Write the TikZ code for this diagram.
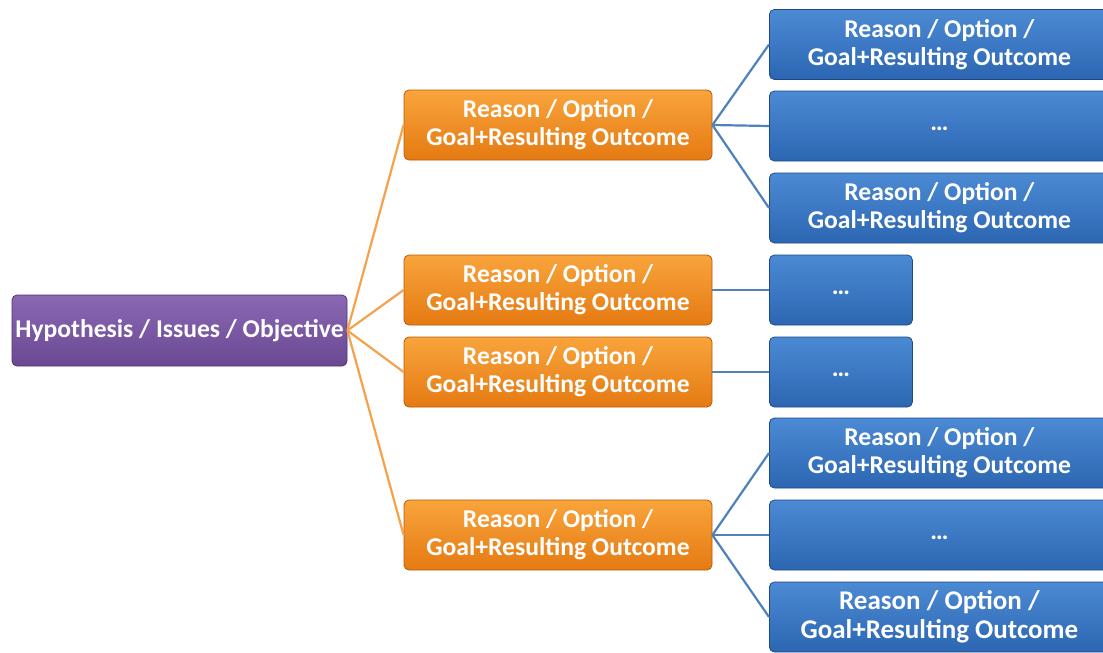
\documentclass[tikz,border=0pt]{standalone}
\usepackage{fontspec}
\setmainfont{Carlito}
\definecolor{purpT}{HTML}{8A68B4}
\definecolor{purpB}{HTML}{6A4892}
\definecolor{purpD}{HTML}{4E3470}
\definecolor{orT}{HTML}{F9A43C}
\definecolor{orB}{HTML}{E57A12}
\definecolor{orD}{HTML}{B85A08}
\definecolor{blT}{HTML}{4C8AD4}
\definecolor{blB}{HTML}{2C66B2}
\definecolor{blD}{HTML}{1C4A88}
\definecolor{orline}{HTML}{F6A24C}
\definecolor{blline}{HTML}{4F81BD}
\newcommand{\mydots}{\smash{\raisebox{-4pt}{\dots}}}
\tikzset{
  box/.style={rounded corners=5pt, minimum height=70pt, text=white,
    font=\bfseries\fontsize{25.6}{28}\selectfont, align=center, inner sep=0pt, line width=0.8pt},
  purpbox/.style={box, draw=purpD, top color=purpT, bottom color=purpB, minimum width=335pt, minimum height=71pt},
  orbox/.style={box, draw=orD, top color=orT, bottom color=orB, minimum width=308pt},
  blbox/.style={box, draw=blD, top color=blT, bottom color=blB, minimum width=340pt},
  blsmall/.style={box, draw=blD, top color=blT, bottom color=blB, minimum width=143pt},
  orconn/.style={draw=orline, line width=2.2pt},
  blconn/.style={draw=blline, line width=2.2pt},
}
\begin{document}
\begin{tikzpicture}[x=1pt,y=-1pt]
\clip (0,0) rectangle (1103,653);
\fill[white] (0,0) rectangle (1103,653);
% root
\node[purpbox] (root) at (179.5,330.5) {Hypothesis / Issues / Objective};
% level 1
\node[orbox] (o1) at (558,125) {Reason / Option /\\Goal+Resulting Outcome};
\node[orbox] (o2) at (558,290) {Reason / Option /\\Goal+Resulting Outcome};
\node[orbox] (o3) at (558,372) {Reason / Option /\\Goal+Resulting Outcome};
\node[orbox] (o4) at (558,535) {Reason / Option /\\Goal+Resulting Outcome};
% level 2
\node[blbox, anchor=west] (b1) at (769,44.5) {Reason / Option /\\Goal+Resulting Outcome};
\node[blbox, anchor=west] (b2) at (769,126) {\mydots};
\node[blbox, anchor=west] (b3) at (769,208) {Reason / Option /\\Goal+Resulting Outcome};
\node[blsmall, anchor=west] (b4) at (769,290) {\mydots};
\node[blsmall, anchor=west] (b5) at (769,372) {\mydots};
\node[blbox, anchor=west] (b6) at (769,453) {Reason / Option /\\Goal+Resulting Outcome};
\node[blbox, anchor=west] (b7) at (769,535) {\mydots};
\node[blbox, anchor=west, font=\bfseries\fontsize{27}{29.5}\selectfont] (b8) at (769,617) {Reason / Option /\\Goal+Resulting Outcome};
% connectors
\foreach \o in {o1,o2,o3,o4}{
  \path[orconn] (root.east) -- (\o.west);
}
\foreach \b in {b1,b2,b3}{ \path[blconn] (o1.east) -- (\b.west); }
\path[blconn] (o2.east) -- (b4.west);
\path[blconn] (o3.east) -- (b5.west);
\foreach \b in {b6,b7,b8}{ \path[blconn] (o4.east) -- (\b.west); }
\end{tikzpicture}
\end{document}
